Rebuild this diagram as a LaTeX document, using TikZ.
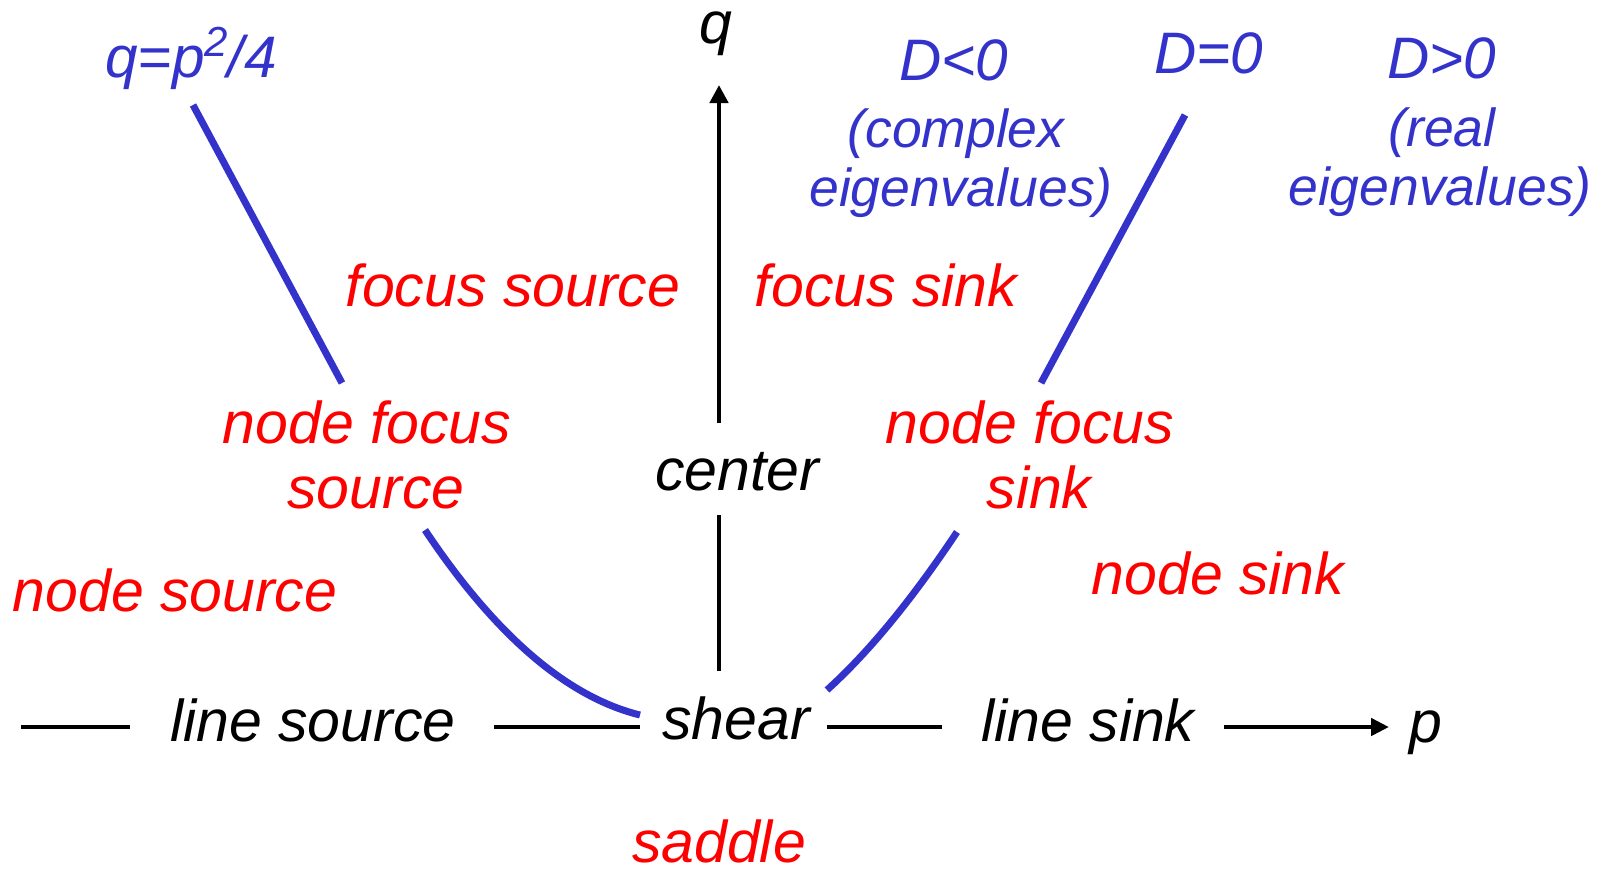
\documentclass[tikz,border=0pt]{standalone}
\usepackage{fontspec}
\setmainfont{Liberation Sans}
\usetikzlibrary{arrows.meta}
\definecolor{bluelabc}{RGB}{51,51,204}
\definecolor{redlabc}{RGB}{255,0,0}
\begin{document}
\begin{tikzpicture}[x=1pt,y=-1pt,
  lab/.style={anchor=base, inner sep=0pt, font=\fontsize{59}{65}\selectfont\itshape},
  blklab/.style={lab, text=black},
  redlab/.style={lab, text=redlabc},
  bluelab/.style={lab, text=bluelabc, font=\fontsize{58.5}{65}\selectfont\itshape},
  bluesmall/.style={lab, text=bluelabc, font=\fontsize{53.5}{60}\selectfont\itshape},
  axisline/.style={line width=4.5pt, draw=black},
  boundline/.style={line width=7pt, draw=bluelabc}]
\useasboundingbox (0,0) rectangle (1609,871);
\fill[white] (0,0) rectangle (1609,871);

% black labels
\node[blklab] (q) at (716,43) {q};
\node[blklab] (center) at (737,490) {center};
\node[blklab] (linesource) at (313,741) {line source};
\node[blklab] (shear) at (736,739) {shear};
\node[blklab] (linesink) at (1088,741) {line sink};
\node[blklab] (p) at (1426,742) {p};

% red labels
\node[redlab] (focussource) at (513,306) {focus source};
\node[redlab] (focussink) at (886,306) {focus sink};
\node[redlab] (nfsA) at (367,443) {node focus};
\node[redlab] (nfsB) at (376,508) {source};
\node[redlab] (nfkA) at (1030,443) {node focus};
\node[redlab] (nfkB) at (1039,508) {sink};
\node[redlab] (nodesink) at (1218,594) {node sink};
\node[redlab] (nodesource) at (175,611) {node source};
\node[redlab] (saddle) at (719,862) {saddle};

% blue labels
\node[bluelab] (parab) at (191,77) {q=p\raisebox{21pt}{\fontsize{42}{42}\selectfont 2}/4};
\node[bluelab] (dneg) at (954,80) {D<0};
\node[bluesmall] (complex) at (956,147) {(complex};
\node[bluesmall] (eigA) at (961,206) {eigenvalues)};
\node[bluelab] (dzero) at (1209,73) {D=0};
\node[bluelab] (dpos) at (1442,78) {D>0};
\node[bluesmall] (real) at (1442,146) {(real};
\node[bluesmall] (eigB) at (1440,205) {eigenvalues)};

% axis coordinates
\coordinate (vtop) at (719,85);
\coordinate (vupper) at (719,423);
\coordinate (vlowA) at (719,515);
\coordinate (vlowB) at (719,671);
\coordinate (h1a) at (21,727);
\coordinate (h1b) at (130,727);
\coordinate (h2a) at (494,727);
\coordinate (h2b) at (640,727);
\coordinate (h3a) at (827,727);
\coordinate (h3b) at (942,727);
\coordinate (h4a) at (1224,727);
\coordinate (h4b) at (1389,727);

\draw[axisline, -{Triangle[length=18pt,width=18pt]}] (vupper) -- (vtop);
\draw[axisline] (vlowA) -- (vlowB);
\draw[axisline] (h1a) -- (h1b);
\draw[axisline] (h2a) -- (h2b);
\draw[axisline] (h3a) -- (h3b);
\draw[axisline, -{Triangle[length=18pt,width=17pt]}] (h4a) -- (h4b);

% boundary curve q = p^2/4
\coordinate (lsA) at (193,105);
\coordinate (lsB) at (342,383);
\coordinate (lcA) at (425,530);
\coordinate (lcB) at (640,715);
\coordinate (rsA) at (1185,115);
\coordinate (rsB) at (1041,383);
\coordinate (rcA) at (957,532);
\coordinate (rcB) at (827,690);

\draw[boundline] (lsA) -- (lsB);
\draw[boundline] (lcA) .. controls (495,635) and (567,697) .. (lcB);
\draw[boundline] (rsA) -- (rsB);
\draw[boundline] (rcA) .. controls (913,598) and (870,651) .. (rcB);
\end{tikzpicture}
\end{document}
